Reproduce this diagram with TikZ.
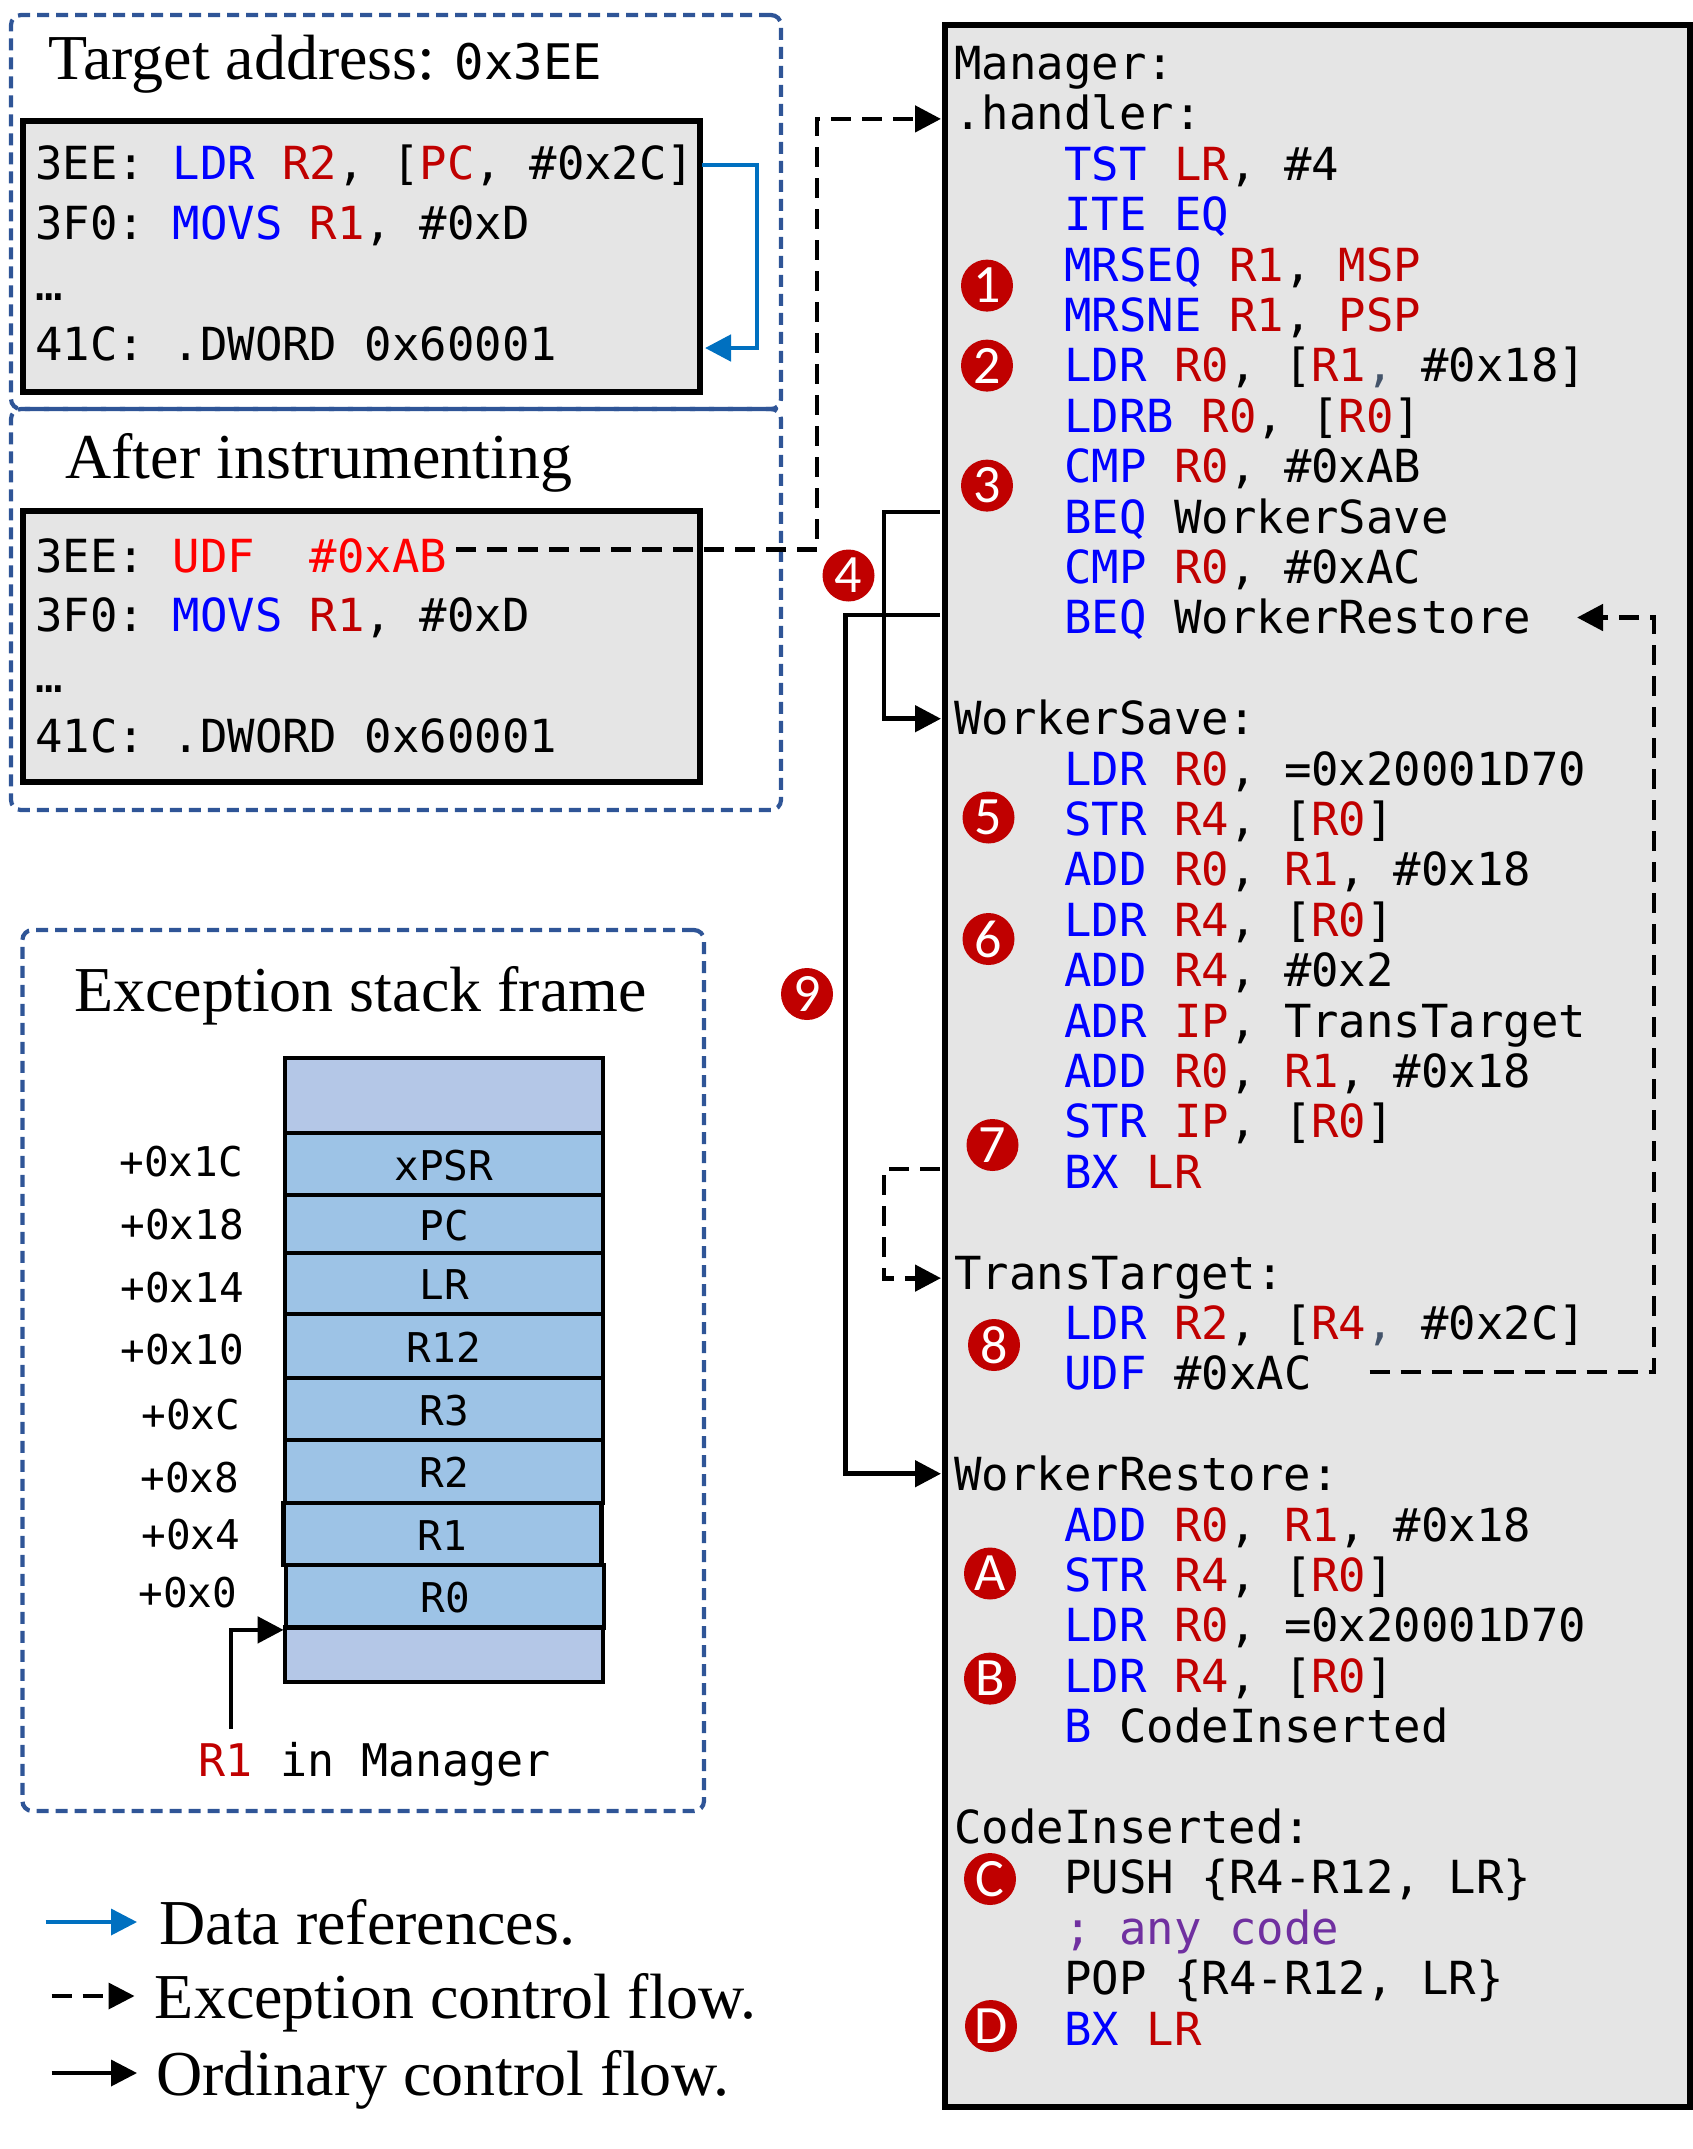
\documentclass[tikz,border=0pt]{standalone}
\usepackage{fontspec}
\usepackage{xcolor}
\usetikzlibrary{arrows.meta}
\setmainfont{Liberation Serif}
\setmonofont{DejaVu Sans Mono}
\newfontfamily\badgefont{Carlito}
\definecolor{opcblue}{HTML}{0000FF}
\definecolor{regred}{HTML}{C00000}
\definecolor{udfred}{HTML}{FF0000}
\definecolor{notepurple}{HTML}{7030A0}
\definecolor{commagray}{HTML}{44546A}
\definecolor{panelgray}{HTML}{E5E5E5}
\definecolor{regionblue}{HTML}{2F5597}
\definecolor{datablue}{HTML}{0070C0}
\definecolor{cellblue}{HTML}{9DC3E6}
\definecolor{capblue}{HTML}{B4C7E7}
\newcommand{\opc}[1]{\textcolor{opcblue}{#1}}
\newcommand{\rg}[1]{\textcolor{regred}{#1}}
\newcommand{\cmm}{\textcolor{commagray}{,}}

\begin{document}
\begin{tikzpicture}[x=0.5pt,y=-0.5pt]
\tikzset{codeline/.style={anchor=base west,inner xsep=6.5pt,inner ysep=0pt,text height=19pt,text depth=5pt,font=\ttfamily\fontsize{22.8}{22.8}\selectfont}}
\tikzset{codebox/.style={draw=black,line width=2.6pt,fill=panelgray,inner sep=0pt}}
\tikzset{regionbox/.style={draw=regionblue,line width=2.1pt,rounded corners=5pt,dash pattern=on 6pt off 3.5pt,inner sep=0pt}}
\tikzset{titletext/.style={anchor=base west,inner sep=0pt,font=\fontsize{32}{32}\selectfont}}
\tikzset{legtext/.style={anchor=west,inner xsep=10pt,inner ysep=0pt,text height=22pt,text depth=0pt,font=\fontsize{32}{32}\selectfont}}
\tikzset{badge/.style={circle,fill=regred,text=white,inner sep=0pt,minimum size=26pt,font=\badgefont\fontsize{27}{27}\selectfont}}
\tikzset{cell/.style={draw=black,line width=2.4pt,inner sep=0pt,text height=16pt,text depth=0pt,minimum width=159pt,font=\ttfamily\fontsize{20.5}{20.5}\selectfont}}
\tikzset{ordflow/.style={-{Triangle[length=13pt,width=13pt]},line width=2.4pt}}
\tikzset{excflow/.style={ordflow,dash pattern=on 10pt off 5.5pt}}
\tikzset{dataflow/.style={ordflow,color=datablue}}

\useasboundingbox (0,0) rectangle (1693,2149);

\node[regionbox,minimum width=385pt,minimum height=197pt] (targetregion) at (396,212) {};
\node[regionbox,minimum width=385pt,minimum height=200.5pt] (afterregion) at (396,609.5) {};
\node[regionbox,minimum width=340.8pt,minimum height=440.5pt] (stackregion) at (363.2,1370.5) {};

\node[codebox,minimum width=338.5pt,minimum height=135.5pt] (targetbox) at (361.5,256.5) {};
\node[codebox,minimum width=338.5pt,minimum height=135.5pt] (afterbox) at (361.5,646.5) {};
\node[codebox,minimum width=372.5pt,minimum height=1041pt] (managerbox) at (1317.5,1066) {};

\node[titletext] (targettitle) at (48,79) {Target address:\hspace{-1pt} {\ttfamily\fontsize{24.5}{24.5}\selectfont 0x3EE}};
\node[titletext] (aftertitle) at (65,478) {After instrumenting};
\node[titletext] (stacktitle) at (74,1011.5) {Exception stack frame};

\node[codeline] (target1) at (22,179) {3EE: \opc{LDR} \rg{R2}, [\rg{PC}, \#0x2C]};
\node[codeline] (target2) at (22,239) {3F0: \opc{MOVS} \rg{R1}, \#0xD};
\node[codeline] (target3) at (22,300) {…};
\node[codeline] (target4) at (22,360) {41C: .DWORD 0x60001};

\node[codeline] (after1) at (22,572) {3EE: \textcolor{udfred}{UDF\ \ \#0xAB}};
\node[codeline] (after2) at (22,631) {3F0: \opc{MOVS} \rg{R1}, \#0xD};
\node[codeline] (after3) at (22,692) {…};
\node[codeline] (after4) at (22,752) {41C: .DWORD 0x60001};

\foreach \n/\col/\txt in {0/941/{Manager:},1/941/{.handler:},
  2/1051/{\opc{TST} \rg{LR}, \#4},3/1051/{\opc{ITE} \opc{EQ}},
  4/1051/{\opc{MRSEQ} \rg{R1}, \rg{MSP}},5/1051/{\opc{MRSNE} \rg{R1}, \rg{PSP}},
  6/1051/{\opc{LDR} \rg{R0}, [\rg{R1}\cmm{} \#0x18]},7/1051/{\opc{LDRB} \rg{R0}, [\rg{R0}]},
  8/1051/{\opc{CMP} \rg{R0}, \#0xAB},9/1051/{\opc{BEQ} WorkerSave},
  10/1051/{\opc{CMP} \rg{R0}, \#0xAC},11/1051/{\opc{BEQ} WorkerRestore},
  13/941/{WorkerSave:},14/1051/{\opc{LDR} \rg{R0}, =0x20001D70},
  15/1051/{\opc{STR} \rg{R4}, [\rg{R0}]},16/1051/{\opc{ADD} \rg{R0}, \rg{R1}, \#0x18},
  17/1051/{\opc{LDR} \rg{R4}, [\rg{R0}]},18/1051/{\opc{ADD} \rg{R4}, \#0x2},
  19/1051/{\opc{ADR} \rg{IP}, TransTarget},20/1051/{\opc{ADD} \rg{R0}, \rg{R1}, \#0x18},
  21/1051/{\opc{STR} \rg{IP}, [\rg{R0}]},22/1051/{\opc{BX} \rg{LR}},
  24/941/{TransTarget:},25/1051/{\opc{LDR} \rg{R2}, [\rg{R4}\cmm{} \#0x2C]},
  26/1051/{\opc{UDF} \#0xAC},
  28/941/{WorkerRestore:},29/1051/{\opc{ADD} \rg{R0}, \rg{R1}, \#0x18},
  30/1051/{\opc{STR} \rg{R4}, [\rg{R0}]},31/1051/{\opc{LDR} \rg{R0}, =0x20001D70},
  32/1051/{\opc{LDR} \rg{R4}, [\rg{R0}]},33/1051/{\opc{B} CodeInserted},
  35/941/{CodeInserted:},36/1051/{PUSH \{R4-R12, LR\}},
  37/1051/{\textcolor{notepurple}{; any code}},38/1051/{POP \{R4-R12, LR\}},
  39/1051/{\opc{BX} \rg{LR}}}
  \node[codeline,name=line\n] at (\col,79.5+\n*50.4) {\txt};

\foreach \lbl/\x/\y in {1/987/285.6,2/987/365.6,3/987/485.6,4/848.5/575.5,5/988.5/817.5,
  6/988.5/939,7/992.5/1145,8/994/1345,9/807/994,A/990/1573.5,B/990/1678.6,C/990/1879,D/991/2026}
  \node[badge,name=badge\lbl] at (\x,\y) {\lbl};

\foreach \nm/\lbl/\tp/\bt/\dx/\clr in {top//1058/1133/0/capblue,xpsr/xPSR/1133/1195/0/cellblue,
  pc/PC/1195/1253/0/cellblue,lr/LR/1253/1314/0/cellblue,rtw/R12/1314/1378/0/cellblue,
  rth/R3/1378/1440/0/cellblue,rtwo/R2/1440/1503/0/cellblue,rone/R1/1503/1565/-1.5/cellblue,
  rzero/R0/1565/1627.5/1/cellblue,bottom//1627.5/1682/0/capblue}
  \node[cell,fill=\clr,name=cell\nm,minimum height={(\bt-\tp)*0.5pt}] at (444+\dx,{(\tp+\bt)/2}) {\lbl};

\foreach \lbl/\x/\y in {+0x1C/119/1176,+0x18/120/1239,+0x14/120/1302,+0x10/120/1364,
  +0xC/141/1429,+0x8/140/1492,+0x4/141/1549,+0x0/138/1607}
  \node[anchor=base west,inner sep=0pt,font=\ttfamily\fontsize{20.5}{20.5}\selectfont,name=off\y] at (\x,\y) {\lbl};

\node[codeline,name=ronenote,font=\ttfamily\fontsize{22.5}{22.5}\selectfont] at (185.5,1776.5) {\rg{R1} in Manager};

\node[legtext,inner xsep=11pt] (legdata) at (137,1922) {Data references.};
\node[legtext] (legexc) at (134.5,1996) {Exception control flow.};
\node[legtext,inner xsep=9.5pt] (legord) at (137,2073) {Ordinary control flow.};

\coordinate (legdatafrom) at (45.5,1922);
\coordinate (legexcfrom) at (51.5,1996);
\coordinate (legordfrom) at (51.5,2073);
\coordinate (ldrout) at (702,165);
\coordinate (dwordin) at (705,348);
\coordinate (udfout) at (456,549.5);
\coordinate (beqsaveout) at (940,512);
\coordinate (beqrestout) at (940,615);
\coordinate (bxout) at (940,1169);
\coordinate (acout) at (1369.5,1372);
\coordinate (restorein) at (1577,617.5);
\coordinate (noteout) at (231,1729);

\draw[dataflow] (ldrout) -- ++(55,0) |- (dwordin);
\draw[excflow] (udfout) -- ++(361,0) |- ([yshift=-1.5pt]line1.west);
\draw[ordflow] (beqsaveout) -- ++(-56,0) |- ([yshift=1pt]line13.west);
\draw[ordflow] (beqrestout) -- ++(-94.5,0) |- ([yshift=1.5pt]line28.west);
\draw[excflow] (bxout) -- ++(-56,0) |- ([yshift=-1.5pt]line24.west);
\draw[excflow] (acout) -- ++(284.5,0) |- (restorein);
\draw[ordflow] (noteout) |- (cellrzero.south west);
\draw[dataflow,line width=1.8pt] (legdatafrom) -- (legdata.west);
\draw[excflow,line width=1.8pt] (legexcfrom) -- (legexc.west);
\draw[ordflow,line width=1.8pt] (legordfrom) -- (legord.west);

\end{tikzpicture}
\end{document}
